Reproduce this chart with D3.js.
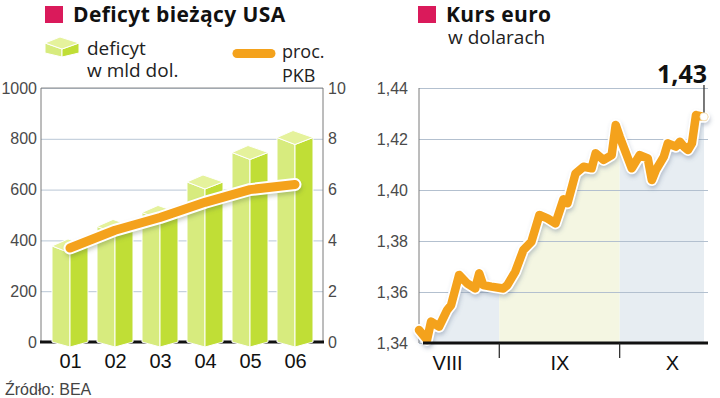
<!DOCTYPE html>
<html>
<head>
<meta charset="utf-8">
<script src="https://cdnjs.cloudflare.com/ajax/libs/d3/7.8.5/d3.min.js"></script>
<style>
    html, body { margin: 0; padding: 0; background: #fff; }
    svg { display: block; font-family: "Open Sans", Roboto, sans-serif; }
    .tick-label { font-size: 16px; font-weight: 300; fill: #4a4a4a; }
</style>
</head>
<body>
<div id="chart"></div>
<script>
// Deficyt bieżący USA
const years = ["01", "02", "03", "04", "05", "06"];
const deficitBn = [378, 455, 510, 630, 746, 805];
const deficitPctGdp = [3.7, 4.4, 4.9, 5.5, 6.0, 6.2];
const bnTicks = [0, 200, 400, 600, 800, 1000];
const pctTicks = [0, 2, 4, 6, 8, 10];

// Kurs euro w dolarach
const euroDates = [
    "2007-08-12", "2007-08-14", "2007-08-15", "2007-08-17", "2007-08-19", "2007-08-20",
    "2007-08-22", "2007-08-24", "2007-08-26", "2007-08-27", "2007-08-28", "2007-08-30",
    "2007-09-02", "2007-09-03", "2007-09-05", "2007-09-07", "2007-09-09", "2007-09-11",
    "2007-09-13", "2007-09-15", "2007-09-17", "2007-09-18", "2007-09-20", "2007-09-22",
    "2007-09-24", "2007-09-25", "2007-09-27", "2007-09-29", "2007-09-30", "2007-10-01",
    "2007-10-04", "2007-10-06", "2007-10-08", "2007-10-09", "2007-10-10", "2007-10-12",
    "2007-10-13", "2007-10-15", "2007-10-16", "2007-10-17", "2007-10-18", "2007-10-19",
    "2007-10-20", "2007-10-22"
];
const euroRates = [
    1.3451, 1.3412, 1.3484, 1.3464, 1.3529, 1.3549,
    1.3667, 1.3634, 1.3614, 1.3673, 1.3627, 1.3621,
    1.3614, 1.3627, 1.3680, 1.3765, 1.3797, 1.3902,
    1.3889, 1.3869, 1.3964, 1.3948, 1.4065, 1.4091,
    1.4085, 1.4144, 1.4118, 1.4137, 1.4255, 1.4209,
    1.4085, 1.4137, 1.4124, 1.4039, 1.4078, 1.4131,
    1.4183, 1.4170, 1.4189, 1.4170, 1.4157, 1.4183,
    1.4294, 1.4287
];
const rateTicks = [1.34, 1.36, 1.38, 1.40, 1.42, 1.44];
const months = ["VIII", "IX", "X"];
const monthBounds = ["2007-08-12", "2007-09-01", "2007-10-01", "2007-10-23"];
const monthLabelDates = ["2007-08-19", "2007-09-16", "2007-10-14"];

const W = 720, H = 398;
const PINK = "#da1a5b";
const ORANGE = "#f4a21c";
const parseDate = d3.timeParse("%Y-%m-%d");
const pl = d3.formatLocale({ decimal: ",", thousands: "", grouping: [3], currency: ["", ""] });

const svg = d3.select("#chart").append("svg")
    .attr("width", W)
    .attr("height", H);

const defs = svg.append("defs");
const blur = defs.append("filter").attr("id", "soft").attr("x", "-10%").attr("y", "-10%")
    .attr("width", "120%").attr("height", "130%");
blur.append("feGaussianBlur").attr("stdDeviation", 2);

// slupek 3D - dwie sciany boczne i romb na gorze
function prism(g, cx, yv, base, hw, dy, drop) {
    const line = pts => "M" + pts.map(p => p.join(",")).join("L") + "Z";
    g.append("path")
        .attr("d", line([[cx - hw, yv], [cx, yv + dy], [cx, base + drop], [cx - hw, base]]))
        .attr("fill", "#d7eb7e").attr("stroke", "#fff").attr("stroke-width", 1);
    g.append("path")
        .attr("d", line([[cx, yv + dy], [cx + hw, yv], [cx + hw, base], [cx, base + drop]]))
        .attr("fill", "#c0de36").attr("stroke", "#fff").attr("stroke-width", 1);
    g.append("path")
        .attr("d", line([[cx - hw, yv], [cx - 2, yv - dy], [cx + hw, yv], [cx, yv + dy]]))
        .attr("fill", "#e5f29c").attr("stroke", "#fff").attr("stroke-width", 1);
}

function title(x, y, text) {
    svg.append("rect").attr("x", x).attr("y", y).attr("width", 18).attr("height", 17).attr("fill", PINK);
    svg.append("text").attr("x", x + 28).attr("y", y + 16)
        .attr("font-size", 21).attr("font-weight", 700).attr("letter-spacing", 0.4).attr("fill", "#111")
        .text(text);
}

function label(g, x, y, text, size) {
    g.append("text").attr("x", x).attr("y", y)
        .attr("font-size", size).attr("fill", "#222").text(text);
}

function drawDeficit() {
    const left = 41, right = 323, top = 88, bottom = 342;

    const x = d3.scalePoint().domain(years).range([70, 295]);
    const yBn = d3.scaleLinear().domain([0, 1000]).range([bottom, top]);
    const yPct = d3.scaleLinear().domain([0, 10]).range([bottom, top]);

    title(45, 6, "Deficyt bieżący USA");

    // legenda
    const lg = svg.append("g");
    prism(lg, 62, 43, 53, 17, 6, 4);
    label(lg, 87, 55, "deficyt", 19);
    label(lg, 87, 77, "w mld dol.", 19);
    lg.append("line").attr("x1", 237).attr("x2", 271).attr("y1", 53.5).attr("y2", 53.5)
        .attr("stroke", ORANGE).attr("stroke-width", 9).attr("stroke-linecap", "round");
    label(lg, 282, 58, "proc.", 18);
    label(lg, 282, 82, "PKB", 18);

    // siatka + lewa os
    const gy = svg.append("g")
        .attr("transform", `translate(${left},0)`)
        .call(d3.axisLeft(yBn).tickValues(bnTicks).tickSize(-(right - left)).tickPadding(4)
            .tickFormat(d3.format("d")));
    gy.select(".domain").remove();
    gy.selectAll(".tick line").attr("stroke", "#b9c7d6");
    gy.selectAll(".tick text").attr("class", "tick-label").attr("font-family", null).attr("font-size", null);

    const gr = svg.append("g")
        .attr("transform", `translate(${right},0)`)
        .call(d3.axisRight(yPct).tickValues(pctTicks).tickSize(0).tickPadding(5));
    gr.select(".domain").remove();
    gr.selectAll(".tick text").attr("class", "tick-label").attr("font-family", null).attr("font-size", null);

    svg.append("line").attr("x1", left).attr("x2", right).attr("y1", top).attr("y2", top)
        .attr("stroke", "#8a8a8a");
    svg.append("line").attr("x1", left).attr("x2", left).attr("y1", top).attr("y2", bottom)
        .attr("stroke", "#7a7a7a");
    svg.append("line").attr("x1", right).attr("x2", right).attr("y1", top).attr("y2", bottom)
        .attr("stroke", "#7a7a7a");
    svg.append("line").attr("x1", left - 1).attr("x2", right + 1).attr("y1", bottom).attr("y2", bottom)
        .attr("stroke", "#111").attr("stroke-width", 3);

    // slupki
    const bars = svg.append("g");
    years.forEach((yr, i) => {
        prism(bars, x(yr), yBn(deficitBn[i]), bottom, 18, 7, 5);
    });

    // linia proc. PKB
    const line = d3.line()
        .x((d, i) => x(years[i]))
        .y(d => yPct(d));
    svg.append("path").attr("d", line(deficitPctGdp))
        .attr("fill", "none").attr("stroke", "rgba(90,110,60,0.35)").attr("stroke-width", 12)
        .attr("transform", "translate(1,3)").attr("filter", "url(#soft)")
        .attr("stroke-linecap", "round").attr("stroke-linejoin", "round");
    svg.append("path").attr("d", line(deficitPctGdp))
        .attr("fill", "none").attr("stroke", "#fff").attr("stroke-width", 13)
        .attr("stroke-linecap", "round").attr("stroke-linejoin", "round");
    svg.append("path").attr("d", line(deficitPctGdp))
        .attr("fill", "none").attr("stroke", ORANGE).attr("stroke-width", 9)
        .attr("stroke-linecap", "round").attr("stroke-linejoin", "round");

    // etykiety lat
    const gx = svg.append("g")
        .attr("transform", `translate(0,${bottom})`)
        .call(d3.axisBottom(x).tickSize(0).tickPadding(12));
    gx.select(".domain").remove();
    gx.selectAll(".tick text").attr("font-family", null).attr("font-size", 20).attr("fill", "#111");

    svg.append("text").attr("x", 5).attr("y", 395)
        .attr("font-family", "'Liberation Sans Narrow', 'Liberation Sans', sans-serif")
        .attr("font-size", 16).attr("fill", "#444")
        .text("Źródło: BEA");
}

function drawEuro() {
    const left = 419, right = 708, top = 88, bottom = 343;
    const data = euroDates.map((d, i) => ({ date: parseDate(d), rate: euroRates[i] }));
    const bounds = monthBounds.map(parseDate);

    const x = d3.scaleTime().domain([bounds[0], bounds[3]]).range([left, right]);
    const y = d3.scaleLinear().domain([1.34, 1.44]).range([bottom, top]);

    title(418, 6, "Kurs euro");
    label(svg, 448, 44, "w dolarach", 19);

    // wypelnienie pod linia, kolor wg miesiaca
    const area = d3.area().x(d => x(d.date)).y0(bottom).y1(d => y(d.rate));
    defs.append("clipPath").attr("id", "under").append("path").attr("d", area(data));
    const fills = ["#e7edf2", "#f4f6e2", "#e7edf2"];
    svg.append("g").attr("clip-path", "url(#under)")
        .selectAll("rect").data(months).enter().append("rect")
        .attr("x", (d, i) => x(bounds[i]))
        .attr("width", (d, i) => x(bounds[i + 1]) - x(bounds[i]))
        .attr("y", top).attr("height", bottom - top)
        .attr("fill", (d, i) => fills[i]);

    const gy = svg.append("g")
        .attr("transform", `translate(${left},0)`)
        .call(d3.axisLeft(y).tickValues(rateTicks).tickSize(-(right - left)).tickPadding(11)
            .tickFormat(pl.format(".2f")));
    gy.select(".domain").remove();
    gy.selectAll(".tick line").attr("stroke", "#b3c0cf");
    gy.selectAll(".tick text").attr("class", "tick-label").attr("font-family", null).attr("font-size", null);

    svg.append("line").attr("x1", left).attr("x2", left).attr("y1", top).attr("y2", bottom)
        .attr("stroke", "#7a7a7a");

    // linia kursu
    const line = d3.line().x(d => x(d.date)).y(d => y(d.rate));
    svg.append("path").attr("d", line(data))
        .attr("fill", "none").attr("stroke", "rgba(80,100,130,0.35)").attr("stroke-width", 11)
        .attr("transform", "translate(1,3)").attr("filter", "url(#soft)")
        .attr("stroke-linejoin", "round").attr("stroke-linecap", "round");
    svg.append("path").attr("d", line(data))
        .attr("fill", "none").attr("stroke", "#fff").attr("stroke-width", 12)
        .attr("stroke-linejoin", "round").attr("stroke-linecap", "round");
    svg.append("path").attr("d", line(data))
        .attr("fill", "none").attr("stroke", ORANGE).attr("stroke-width", 8.5)
        .attr("stroke-linejoin", "round").attr("stroke-linecap", "round");

    // os X z miesiacami
    svg.append("line").attr("x1", left + 4).attr("x2", right).attr("y1", bottom).attr("y2", bottom)
        .attr("stroke", "#111").attr("stroke-width", 3);
    svg.selectAll(".month-sep").data(bounds.slice(1, 3)).enter().append("line")
        .attr("x1", d => x(d)).attr("x2", d => x(d))
        .attr("y1", bottom).attr("y2", bottom + 15)
        .attr("stroke", "#222").attr("stroke-width", 1.2);
    const gx = svg.append("g")
        .attr("transform", `translate(0,${bottom})`)
        .call(d3.axisBottom(x).tickValues(monthLabelDates.map(parseDate)).tickSize(0).tickPadding(13)
            .tickFormat((d, i) => months[i]));
    gx.select(".domain").remove();
    gx.selectAll(".tick text").attr("font-family", null).attr("font-size", 20).attr("fill", "#111");

    // ostatnia wartosc
    const last = data[data.length - 1];
    svg.append("line").attr("x1", x(last.date)).attr("x2", x(last.date))
        .attr("y1", top - 3).attr("y2", y(last.rate))
        .attr("stroke", "#222").attr("stroke-width", 1.2);
    svg.append("circle").attr("cx", x(last.date)).attr("cy", y(last.rate)).attr("r", 4)
        .attr("fill", "#fff").attr("stroke", "#f3e3c0").attr("stroke-width", 0.8);
    svg.append("text").attr("x", 707).attr("y", 83).attr("text-anchor", "end")
        .attr("font-size", 25).attr("font-weight", 700).attr("fill", "#111")
        .text(pl.format(".2f")(last.rate));
}

drawDeficit();
drawEuro();
</script>
</body>
</html>
